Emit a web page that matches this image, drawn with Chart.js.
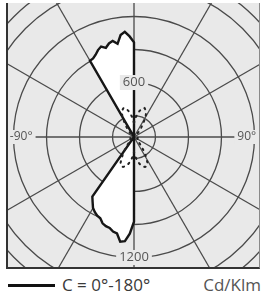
<!DOCTYPE html>
<html>
<head>
<meta charset="utf-8">
<script src="https://cdn.jsdelivr.net/npm/chart.js@4.4.1/dist/chart.umd.min.js"></script>
<style>
  html, body { margin: 0; padding: 0; background: #fff; }
  body { width: 262px; height: 295px; position: relative; overflow: hidden; font-family: "Open Sans", sans-serif; }
  #frame { position: absolute; left: 6px; top: 3px; width: 251px; height: 264px; background: #e9e9e9;
           border-left: 2px solid #333; border-bottom: 2px solid #333; border-right: 1px solid #8a8a8a; overflow: hidden; }
  #frame canvas { position: absolute; }
  #legendLine { position: absolute; left: 8px; top: 284px; width: 47px; height: 3px; background: #111; }
  .legendText { position: absolute; top: 276px; font-size: 17px; line-height: 17px; white-space: nowrap; }
  #legendName { left: 62px; color: #3a3a3a; }
  #legendUnit { right: 1px; color: #555; }
</style>
</head>
<body>
<div id="frame"><canvas id="ldc" width="355" height="355"></canvas></div>
<div id="legendLine"></div>
<span class="legendText" id="legendName">C = 0°-180°</span>
<span class="legendText" id="legendUnit">Cd/Klm</span>
<script>
// gamma angles, clockwise from the top: 180 (up), 90 (right), 0 (down), -90 (left)
const angleStep = 2.5;
const angles = [];
for (let a = 180; a > -180; a -= angleStep) angles.push(a);

// C = 0°-180° plane, cd/klm (12 values per 30°)
const planeC0 = [
    965, 105, 105, 105, 105, 105, 105, 105, 105, 105, 105, 105,
    105, 105, 105, 105, 105, 105, 105, 105, 105, 105, 105, 105,
    105, 105, 105, 105, 105, 105, 105, 105, 105, 105, 105, 105,
    105, 105, 105, 105, 105, 105, 105, 105, 105, 105, 105, 105,
    105, 105, 105, 105, 105, 105, 105, 105, 105, 105, 105, 105,
    105, 105, 105, 105, 105, 105, 105, 105, 105, 105, 105, 105,
    875, 985, 1055, 1065, 995, 985, 960, 955, 940, 905, 895, 875,
    850, 805, 765, 105, 105, 105, 105, 105, 105, 105, 105, 105,
    105, 105, 105, 105, 105, 105, 105, 105, 105, 105, 105, 105,
    105, 105, 105, 105, 105, 105, 105, 105, 105, 105, 105, 105,
    105, 105, 105, 105, 105, 105, 105, 105, 105, 105, 105, 105,
    905, 910, 930, 960, 980, 955, 985, 1000, 965, 1040, 1065, 1020
];

// dotted plane near the centre
const planeC90 = [
    230, 260, 285, 305, 330, 350, 370, 375, 385, 375, 360, 340,
    315, 275, 240, 215, 185, 170, 150, 140, 140, 140, 140, 140,
    140, 140, 140, 140, 140, 140, 140, 140, 140, 140, 140, 140,
    140, 140, 140, 140, 140, 140, 140, 140, 140, 140, 140, 140,
    140, 140, 140, 140, 140, 140, 150, 170, 195, 225, 260, 295,
    330, 370, 385, 395, 395, 385, 375, 360, 340, 315, 295, 270,
    240, 270, 295, 315, 340, 360, 375, 385, 395, 395, 385, 370,
    330, 295, 260, 225, 195, 170, 150, 140, 140, 140, 140, 140,
    140, 140, 140, 140, 140, 140, 140, 140, 140, 140, 140, 140,
    140, 140, 140, 140, 140, 140, 140, 140, 140, 140, 140, 140,
    140, 140, 140, 140, 140, 140, 150, 170, 185, 215, 240, 275,
    315, 340, 360, 375, 385, 375, 370, 350, 330, 305, 285, 260
];

const rMin = 105;
const rMax = 1650;
const circleValues = [300, 600, 900, 1200, 1500, 1650];
const topTicks = [600];
const bottomTicks = [1200];
const sideAngles = [-90, 90];
const sideTexts = ['-90°', '90°'];
const sideValue = 1130;

const bg = '#e9e9e9';
const gridColor = '#4a4a4a';

// labels that sit on the axes with a small backdrop
const axisText = {
    id: 'axisText',
    afterDatasetsDraw(chart) {
        const s = chart.scales.r;
        const ctx = chart.ctx;
        const put = (text, idx, value, size) => {
            const p = s.getPointPositionForValue(idx, value);
            ctx.font = size + 'px "Open Sans"';
            const w = ctx.measureText(text).width;
            ctx.fillStyle = bg;
            ctx.fillRect(p.x - w / 2 - 3, p.y - size / 2 - 1, w + 6, size + 2);
            ctx.fillStyle = '#555';
            ctx.fillText(text, p.x, p.y);
        };
        ctx.save();
        ctx.textAlign = 'center';
        ctx.textBaseline = 'middle';
        bottomTicks.forEach(v => put(String(v), angles.indexOf(0), v, 13));
        sideAngles.forEach((a, k) => put(sideTexts[k], angles.indexOf(a), sideValue, 12));
        ctx.restore();
    }
};

const canvas = document.getElementById('ldc');
const chart = new Chart(canvas.getContext('2d'), {
    type: 'radar',
    data: {
        labels: angles,
        datasets: [{
            data: planeC90,
            borderColor: '#222',
            borderWidth: 2,
            borderDash: [1.5, 5],
            borderCapStyle: 'round',
            fill: false,
            pointRadius: 0,
            tension: 0
        }, {
            label: 'C = 0°-180°',
            data: planeC0,
            borderColor: '#161616',
            borderWidth: 2.4,
            backgroundColor: '#ffffff',
            fill: 'start',
            pointRadius: 0,
            tension: 0
        }]
    },
    options: {
        responsive: false,
        animation: false,
        plugins: { legend: { display: false }, tooltip: { enabled: false } },
        scales: {
            r: {
                min: rMin,
                max: rMax,
                startAngle: 0,
                // first tick is the pole, the rest are the grid circles
                afterBuildTicks: s => { s.ticks = [rMin].concat(circleValues).map(v => ({ value: v })); },
                grid: { circular: true, color: gridColor, lineWidth: 1.3 },
                angleLines: { color: gridColor, lineWidth: c => (c.index % 12 === 0 ? 1.3 : 0) },
                pointLabels: { display: false },
                ticks: {
                    z: 1,
                    color: '#555',
                    font: { family: 'Open Sans', size: 13 },
                    backdropColor: bg,
                    backdropPadding: { x: 3, y: 1 },
                    showLabelBackdrop: c => !!(c.tick && topTicks.includes(c.tick.value)),
                    callback: v => (topTicks.includes(v) ? String(v) : '')
                }
            }
        }
    },
    plugins: [axisText]
});

// put the pole of the diagram at (134, 137) on the page
const r = chart.scales.r;
canvas.style.left = (134 - 8 - r.xCenter) + 'px';
canvas.style.top = (137 - 3 - r.yCenter) + 'px';
</script>
</body>
</html>
